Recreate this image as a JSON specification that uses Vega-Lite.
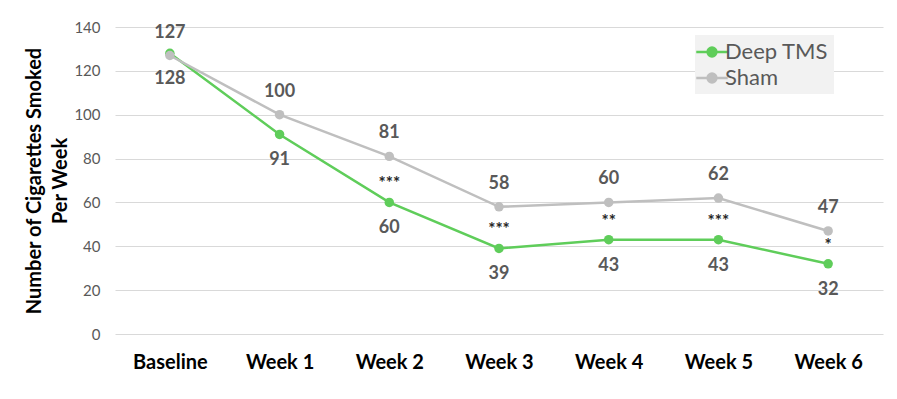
{
  "$schema": "https://vega.github.io/schema/vega-lite/v6.json",
  "width": 768,
  "height": 307,
  "autosize": "none",
  "padding": {"left": 115, "top": 27, "right": 14, "bottom": 65},
  "background": "white",
  "config": {
    "font": "Lato",
    "view": {"stroke": null}
  },
  "datasets": {
    "series": [
      {"week": "Baseline", "group": "Deep TMS", "value": 128},
      {"week": "Week 1", "group": "Deep TMS", "value": 91},
      {"week": "Week 2", "group": "Deep TMS", "value": 60},
      {"week": "Week 3", "group": "Deep TMS", "value": 39},
      {"week": "Week 4", "group": "Deep TMS", "value": 43},
      {"week": "Week 5", "group": "Deep TMS", "value": 43},
      {"week": "Week 6", "group": "Deep TMS", "value": 32},
      {"week": "Baseline", "group": "Sham", "value": 127},
      {"week": "Week 1", "group": "Sham", "value": 100},
      {"week": "Week 2", "group": "Sham", "value": 81},
      {"week": "Week 3", "group": "Sham", "value": 58},
      {"week": "Week 4", "group": "Sham", "value": 60},
      {"week": "Week 5", "group": "Sham", "value": 62},
      {"week": "Week 6", "group": "Sham", "value": 47}
    ],
    "stars": [
      {"week": "Week 2", "value": 60, "sig": "***"},
      {"week": "Week 3", "value": 39, "sig": "***"},
      {"week": "Week 4", "value": 43, "sig": "**"},
      {"week": "Week 5", "value": 43, "sig": "***"},
      {"week": "Week 6", "value": 32, "sig": "*"}
    ]
  },
  "encoding": {
    "x": {
      "field": "week", "type": "nominal", "sort": null,
      "scale": {"type": "point", "padding": 0.5},
      "axis": {
        "title": null, "labelAngle": 0, "domain": false, "ticks": false, "grid": false,
        "labelFont": "Lato", "labelFontWeight": "bold", "labelFontSize": 20, "labelColor": "#000000",
        "labelPadding": 18
      }
    },
    "y": {
      "field": "value", "type": "quantitative",
      "scale": {"domain": [0, 140]},
      "axis": {
        "values": [0, 20, 40, 60, 80, 100, 120, 140],
        "domain": false, "ticks": false, "gridColor": "#d9d9d9", "gridWidth": 1,
        "labelColor": "#595959", "labelFontSize": 15, "labelPadding": 15,
        "title": ["Number of Cigarettes Smoked", "Per Week"],
        "titleFontSize": 20, "titleFontWeight": "bold", "titleColor": "#000000",
        "titleLineHeight": 26, "titlePadding": 3
      }
    }
  },
  "layer": [
    {
      "data": {"name": "series"},
      "mark": {"type": "line", "strokeWidth": 2.5, "point": {"filled": true, "size": 90}},
      "encoding": {
        "color": {
          "field": "group", "type": "nominal",
          "scale": {"domain": ["Deep TMS", "Sham"], "range": ["#5fcd5a", "#bfbfbf"]},
          "legend": {
            "title": null, "orient": "none", "legendX": 580, "legendY": 8,
            "fillColor": "#f2f2f2", "padding": 5, "rowPadding": 3,
            "labelFontSize": 22, "labelColor": "#595959", "labelFont": "Lato",
            "symbolType": "M-1.5,0H1.5M-0.42,0A0.42,0.42 0 1,0 0.42,0A0.42,0.42 0 1,0 -0.42,0",
            "symbolSize": 440, "symbolStrokeWidth": 2.5, "labelOffset": 1
          }
        }
      }
    },
    {
      "data": {"name": "series"},
      "transform": [{"filter": "datum.group === 'Sham'"}],
      "mark": {"type": "text", "dy": -23, "fontSize": 18, "fontWeight": "bold", "color": "#595959", "font": "Lato"},
      "encoding": {"text": {"field": "value"}}
    },
    {
      "data": {"name": "series"},
      "transform": [{"filter": "datum.group === 'Deep TMS'"}],
      "mark": {"type": "text", "dy": 26, "fontSize": 18, "fontWeight": "bold", "color": "#595959", "font": "Lato"},
      "encoding": {"text": {"field": "value"}}
    },
    {
      "data": {"name": "stars"},
      "mark": {"type": "text", "dy": -18, "fontSize": 17, "fontWeight": "bold", "color": "#262626", "font": "Lato"},
      "encoding": {"text": {"field": "sig"}}
    }
  ]
}
